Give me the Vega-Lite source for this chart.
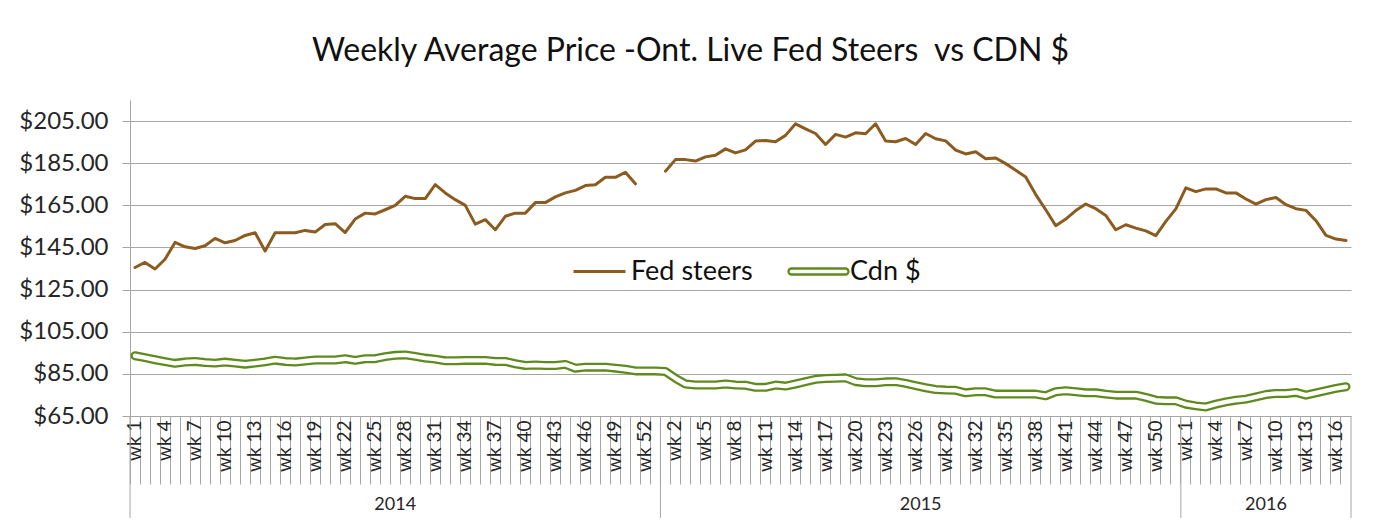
{
  "$schema": "https://vega.github.io/schema/vega-lite/v6.json",
  "width": 1221,
  "height": 316,
  "autosize": {"type": "none"},
  "padding": {"left": 130, "top": 100, "right": 26, "bottom": 106},
  "background": "white",
  "title": {
    "text": "Weekly Average Price -Ont. Live Fed Steers \u00a0vs CDN $",
    "anchor": "middle",
    "frame": "group",
    "dx": -50,
    "offset": 32,
    "font": "Lato",
    "fontSize": 32,
    "fontWeight": "normal",
    "color": "#111111"
  },
  "config": {
    "view": {"stroke": null},
    "font": "Lato"
  },
  "data": {
    "values": [
      {"year": "2014", "cat": "2014-1", "steers": 135.5, "cdn": 93.6},
      {"year": "2014", "cat": "2014-2", "steers": 137.9, "cdn": 92.7},
      {"year": "2014", "cat": "2014-3", "steers": 134.8, "cdn": 91.7},
      {"year": "2014", "cat": "2014-4", "steers": 139.4, "cdn": 90.8},
      {"year": "2014", "cat": "2014-5", "steers": 147.4, "cdn": 90.0},
      {"year": "2014", "cat": "2014-6", "steers": 145.3, "cdn": 90.6},
      {"year": "2014", "cat": "2014-7", "steers": 144.5, "cdn": 90.9},
      {"year": "2014", "cat": "2014-8", "steers": 145.8, "cdn": 90.4},
      {"year": "2014", "cat": "2014-9", "steers": 149.3, "cdn": 90.1},
      {"year": "2014", "cat": "2014-10", "steers": 147.2, "cdn": 90.6},
      {"year": "2014", "cat": "2014-11", "steers": 148.3, "cdn": 90.1},
      {"year": "2014", "cat": "2014-12", "steers": 150.7, "cdn": 89.6},
      {"year": "2014", "cat": "2014-13", "steers": 152.0, "cdn": 90.1},
      {"year": "2014", "cat": "2014-14", "steers": 143.3, "cdn": 90.7},
      {"year": "2014", "cat": "2014-15", "steers": 152.0, "cdn": 91.5},
      {"year": "2014", "cat": "2014-16", "steers": 152.0, "cdn": 90.9},
      {"year": "2014", "cat": "2014-17", "steers": 152.0, "cdn": 90.6},
      {"year": "2014", "cat": "2014-18", "steers": 153.1, "cdn": 91.1},
      {"year": "2014", "cat": "2014-19", "steers": 152.3, "cdn": 91.6},
      {"year": "2014", "cat": "2014-20", "steers": 155.9, "cdn": 91.6},
      {"year": "2014", "cat": "2014-21", "steers": 156.3, "cdn": 91.6},
      {"year": "2014", "cat": "2014-22", "steers": 152.1, "cdn": 92.2},
      {"year": "2014", "cat": "2014-23", "steers": 158.5, "cdn": 91.4},
      {"year": "2014", "cat": "2014-24", "steers": 161.3, "cdn": 92.2},
      {"year": "2014", "cat": "2014-25", "steers": 160.9, "cdn": 92.2},
      {"year": "2014", "cat": "2014-26", "steers": 162.9, "cdn": 93.2},
      {"year": "2014", "cat": "2014-27", "steers": 165.0, "cdn": 93.8},
      {"year": "2014", "cat": "2014-28", "steers": 169.3, "cdn": 94.0},
      {"year": "2014", "cat": "2014-29", "steers": 168.2, "cdn": 93.3},
      {"year": "2014", "cat": "2014-30", "steers": 168.2, "cdn": 92.5},
      {"year": "2014", "cat": "2014-31", "steers": 174.8, "cdn": 92.0},
      {"year": "2014", "cat": "2014-32", "steers": 170.9, "cdn": 91.2},
      {"year": "2014", "cat": "2014-33", "steers": 167.7, "cdn": 91.2},
      {"year": "2014", "cat": "2014-34", "steers": 165.0, "cdn": 91.4},
      {"year": "2014", "cat": "2014-35", "steers": 156.1, "cdn": 91.4},
      {"year": "2014", "cat": "2014-36", "steers": 158.2, "cdn": 91.4},
      {"year": "2014", "cat": "2014-37", "steers": 153.4, "cdn": 90.9},
      {"year": "2014", "cat": "2014-38", "steers": 159.8, "cdn": 90.9},
      {"year": "2014", "cat": "2014-39", "steers": 161.3, "cdn": 89.8},
      {"year": "2014", "cat": "2014-40", "steers": 161.3, "cdn": 89.0},
      {"year": "2014", "cat": "2014-41", "steers": 166.3, "cdn": 89.2},
      {"year": "2014", "cat": "2014-42", "steers": 166.3, "cdn": 89.0},
      {"year": "2014", "cat": "2014-43", "steers": 169.0, "cdn": 89.0},
      {"year": "2014", "cat": "2014-44", "steers": 170.9, "cdn": 89.5},
      {"year": "2014", "cat": "2014-45", "steers": 172.1, "cdn": 87.7},
      {"year": "2014", "cat": "2014-46", "steers": 174.4, "cdn": 88.2},
      {"year": "2014", "cat": "2014-47", "steers": 174.8, "cdn": 88.2},
      {"year": "2014", "cat": "2014-48", "steers": 178.3, "cdn": 88.2},
      {"year": "2014", "cat": "2014-49", "steers": 178.3, "cdn": 87.7},
      {"year": "2014", "cat": "2014-50", "steers": 180.7, "cdn": 87.2},
      {"year": "2014", "cat": "2014-51", "steers": 175.2, "cdn": 86.4},
      {"year": "2014", "cat": "2014-52", "steers": null, "cdn": 86.4},
      {"year": "2014", "cat": "2014-53", "steers": null, "cdn": 86.4},
      {"year": "2015", "cat": "2015-1", "steers": 181.2, "cdn": 86.1},
      {"year": "2015", "cat": "2015-2", "steers": 186.7, "cdn": 82.9},
      {"year": "2015", "cat": "2015-3", "steers": 186.7, "cdn": 80.2},
      {"year": "2015", "cat": "2015-4", "steers": 186.0, "cdn": 79.7},
      {"year": "2015", "cat": "2015-5", "steers": 188.0, "cdn": 79.7},
      {"year": "2015", "cat": "2015-6", "steers": 188.8, "cdn": 79.7},
      {"year": "2015", "cat": "2015-7", "steers": 191.8, "cdn": 80.2},
      {"year": "2015", "cat": "2015-8", "steers": 189.9, "cdn": 79.7},
      {"year": "2015", "cat": "2015-9", "steers": 191.3, "cdn": 79.6},
      {"year": "2015", "cat": "2015-10", "steers": 195.5, "cdn": 78.6},
      {"year": "2015", "cat": "2015-11", "steers": 195.8, "cdn": 78.6},
      {"year": "2015", "cat": "2015-12", "steers": 195.2, "cdn": 79.7},
      {"year": "2015", "cat": "2015-13", "steers": 198.2, "cdn": 79.2},
      {"year": "2015", "cat": "2015-14", "steers": 203.7, "cdn": 80.2},
      {"year": "2015", "cat": "2015-15", "steers": 201.3, "cdn": 81.3},
      {"year": "2015", "cat": "2015-16", "steers": 199.1, "cdn": 82.4},
      {"year": "2015", "cat": "2015-17", "steers": 193.9, "cdn": 82.8},
      {"year": "2015", "cat": "2015-18", "steers": 198.7, "cdn": 82.9},
      {"year": "2015", "cat": "2015-19", "steers": 197.4, "cdn": 83.1},
      {"year": "2015", "cat": "2015-20", "steers": 199.4, "cdn": 81.3},
      {"year": "2015", "cat": "2015-21", "steers": 199.0, "cdn": 80.8},
      {"year": "2015", "cat": "2015-22", "steers": 203.7, "cdn": 80.8},
      {"year": "2015", "cat": "2015-23", "steers": 195.5, "cdn": 81.2},
      {"year": "2015", "cat": "2015-24", "steers": 195.2, "cdn": 81.3},
      {"year": "2015", "cat": "2015-25", "steers": 196.7, "cdn": 80.5},
      {"year": "2015", "cat": "2015-26", "steers": 193.9, "cdn": 79.4},
      {"year": "2015", "cat": "2015-27", "steers": 199.1, "cdn": 78.4},
      {"year": "2015", "cat": "2015-28", "steers": 196.6, "cdn": 77.6},
      {"year": "2015", "cat": "2015-29", "steers": 195.6, "cdn": 77.3},
      {"year": "2015", "cat": "2015-30", "steers": 191.2, "cdn": 77.2},
      {"year": "2015", "cat": "2015-31", "steers": 189.4, "cdn": 76.0},
      {"year": "2015", "cat": "2015-32", "steers": 190.4, "cdn": 76.5},
      {"year": "2015", "cat": "2015-33", "steers": 187.1, "cdn": 76.5},
      {"year": "2015", "cat": "2015-34", "steers": 187.5, "cdn": 75.4},
      {"year": "2015", "cat": "2015-35", "steers": 184.8, "cdn": 75.4},
      {"year": "2015", "cat": "2015-36", "steers": 181.7, "cdn": 75.4},
      {"year": "2015", "cat": "2015-37", "steers": 178.5, "cdn": 75.4},
      {"year": "2015", "cat": "2015-38", "steers": 170.1, "cdn": 75.4},
      {"year": "2015", "cat": "2015-39", "steers": 162.9, "cdn": 74.6},
      {"year": "2015", "cat": "2015-40", "steers": 155.3, "cdn": 76.5},
      {"year": "2015", "cat": "2015-41", "steers": 158.5, "cdn": 77.0},
      {"year": "2015", "cat": "2015-42", "steers": 162.5, "cdn": 76.5},
      {"year": "2015", "cat": "2015-43", "steers": 165.6, "cdn": 76.0},
      {"year": "2015", "cat": "2015-44", "steers": 163.4, "cdn": 76.0},
      {"year": "2015", "cat": "2015-45", "steers": 160.2, "cdn": 75.4},
      {"year": "2015", "cat": "2015-46", "steers": 153.4, "cdn": 74.9},
      {"year": "2015", "cat": "2015-47", "steers": 155.8, "cdn": 74.9},
      {"year": "2015", "cat": "2015-48", "steers": 154.2, "cdn": 74.9},
      {"year": "2015", "cat": "2015-49", "steers": 152.9, "cdn": 73.8},
      {"year": "2015", "cat": "2015-50", "steers": 150.6, "cdn": 72.5},
      {"year": "2015", "cat": "2015-51", "steers": 157.4, "cdn": 72.2},
      {"year": "2015", "cat": "2015-52", "steers": 163.3, "cdn": 72.2},
      {"year": "2016", "cat": "2016-1", "steers": 173.3, "cdn": 70.6},
      {"year": "2016", "cat": "2016-2", "steers": 171.5, "cdn": 69.8},
      {"year": "2016", "cat": "2016-3", "steers": 172.8, "cdn": 69.3},
      {"year": "2016", "cat": "2016-4", "steers": 172.8, "cdn": 70.6},
      {"year": "2016", "cat": "2016-5", "steers": 170.9, "cdn": 71.7},
      {"year": "2016", "cat": "2016-6", "steers": 170.9, "cdn": 72.5},
      {"year": "2016", "cat": "2016-7", "steers": 168.0, "cdn": 73.0},
      {"year": "2016", "cat": "2016-8", "steers": 165.6, "cdn": 74.1},
      {"year": "2016", "cat": "2016-9", "steers": 167.7, "cdn": 75.2},
      {"year": "2016", "cat": "2016-10", "steers": 168.7, "cdn": 75.7},
      {"year": "2016", "cat": "2016-11", "steers": 165.3, "cdn": 75.7},
      {"year": "2016", "cat": "2016-12", "steers": 163.4, "cdn": 76.2},
      {"year": "2016", "cat": "2016-13", "steers": 162.6, "cdn": 74.9},
      {"year": "2016", "cat": "2016-14", "steers": 157.7, "cdn": 76.0},
      {"year": "2016", "cat": "2016-15", "steers": 150.7, "cdn": 77.0},
      {"year": "2016", "cat": "2016-16", "steers": 149.0, "cdn": 78.1},
      {"year": "2016", "cat": "2016-17", "steers": 148.3, "cdn": 78.9}
    ]
  },
  "layer": [
    {
      "mark": {"type": "line", "strokeWidth": 3, "strokeJoin": "round", "strokeCap": "round", "invalid": "break-paths-show-domains"},
      "encoding": {
        "x": {
          "field": "cat", "type": "nominal", "sort": null, "title": null, "bandPosition": 0.5,
          "scale": {"type": "band", "paddingInner": 0, "paddingOuter": 0},
          "axis": {
            "bandPosition": 0,
            "grid": false,
            "domainColor": "#a6a6a6",
            "tickColor": "#a6a6a6",
            "tickSize": 68,
            "labelAngle": 270,
            "labelAlign": "right",
            "labelBaseline": "middle",
            "labelPadding": -64,
            "labelFont": "Lato",
            "labelFontSize": 19,
            "labelColor": "#262626",
            "labelOverlap": false,
            "labelBound": false,
            "labelExpr": "(split(datum.value,'-')[0]=='2015' ? toNumber(split(datum.value,'-')[1]) % 3 == 2 : toNumber(split(datum.value,'-')[1]) % 3 == 1) ? 'wk ' + split(datum.value,'-')[1] : ''"
          }
        },
        "y": {
          "field": "steers", "type": "quantitative", "title": null,
          "scale": {"domain": [65, 215], "nice": false, "zero": false},
          "axis": {
            "values": [65, 85, 105, 125, 145, 165, 185, 205],
            "format": "$.2f",
            "grid": true,
            "gridColor": "#a6a6a6",
            "gridWidth": 1,
            "domainColor": "#a6a6a6",
            "tickColor": "#a6a6a6",
            "tickSize": 8,
            "labelFont": "Lato",
            "labelFontSize": 24,
            "labelColor": "#262626",
            "labelPadding": 14
          }
        },
        "color": {
          "datum": "Fed steers", "type": "nominal",
          "scale": {"range": ["#8c5b1f"]},
          "legend": {
            "orient": "none", "legendX": 442, "legendY": 144, "direction": "horizontal", "title": null,
            "symbolType": "stroke", "symbolSize": 2704, "symbolStrokeWidth": 3,
            "labelFont": "Lato", "labelFontSize": 27, "labelColor": "#111111", "labelOffset": 4, "padding": 0
          }
        }
      }
    },
    {
      "mark": {"type": "line", "strokeWidth": 9, "strokeJoin": "round", "strokeCap": "round"},
      "encoding": {
        "x": {"field": "cat", "type": "nominal", "sort": null, "title": null, "bandPosition": 0.5},
        "y": {"field": "cdn", "type": "quantitative", "title": null},
        "stroke": {
          "datum": "Cdn $", "type": "nominal",
          "scale": {"range": ["#5f8a1e"]},
          "legend": {
            "orient": "none", "legendX": 657, "legendY": 140, "direction": "horizontal", "title": null,
            "symbolType": "M-0.9,-0.1L0.9,-0.1A0.1,0.1,0,0,1,0.9,0.1L-0.9,0.1A0.1,0.1,0,0,1,-0.9,-0.1Z",
            "symbolSize": 3600, "symbolStrokeWidth": 2.3, "symbolFillColor": "white",
            "labelFont": "Lato", "labelFontSize": 27, "labelColor": "#111111", "labelOffset": 0, "padding": 0
          }
        }
      }
    },
    {
      "mark": {"type": "line", "strokeWidth": 4.4, "strokeJoin": "round", "strokeCap": "round", "color": "white"},
      "encoding": {
        "x": {"field": "cat", "type": "nominal", "sort": null, "title": null, "bandPosition": 0.5},
        "y": {"field": "cdn", "type": "quantitative", "title": null}
      }
    },
    {
      "transform": [{"filter": "datum.cat=='2014-1' || datum.cat=='2015-1' || datum.cat=='2016-1'"}],
      "mark": {"type": "rule", "color": "#a6a6a6", "strokeWidth": 1},
      "encoding": {
        "x": {"field": "cat", "type": "nominal", "sort": null, "title": null, "bandPosition": 0},
        "y": {"datum": 65, "type": "quantitative"},
        "y2": {"datum": 16.6}
      }
    },
    {
      "transform": [{"filter": "datum.cat=='2016-17'"}],
      "mark": {"type": "rule", "color": "#a6a6a6", "strokeWidth": 1},
      "encoding": {
        "x": {"field": "cat", "type": "nominal", "sort": null, "title": null, "bandPosition": 1},
        "y": {"datum": 65, "type": "quantitative"},
        "y2": {"datum": 16.6}
      }
    },
    {
      "transform": [{"filter": "datum.cat=='2014-27' || datum.cat=='2016-9'"}],
      "mark": {"type": "text", "font": "Lato", "fontSize": 18, "color": "#262626", "baseline": "middle", "align": "center"},
      "encoding": {
        "x": {"field": "cat", "type": "nominal", "sort": null, "title": null, "bandPosition": 0.5},
        "y": {"datum": 22.75, "type": "quantitative"},
        "text": {"field": "year"}
      }
    },
    {
      "transform": [{"filter": "datum.cat=='2015-27'"}],
      "mark": {"type": "text", "font": "Lato", "fontSize": 18, "color": "#262626", "baseline": "middle", "align": "center"},
      "encoding": {
        "x": {"field": "cat", "type": "nominal", "sort": null, "title": null, "bandPosition": 0},
        "y": {"datum": 22.75, "type": "quantitative"},
        "text": {"field": "year"}
      }
    }
  ]
}
